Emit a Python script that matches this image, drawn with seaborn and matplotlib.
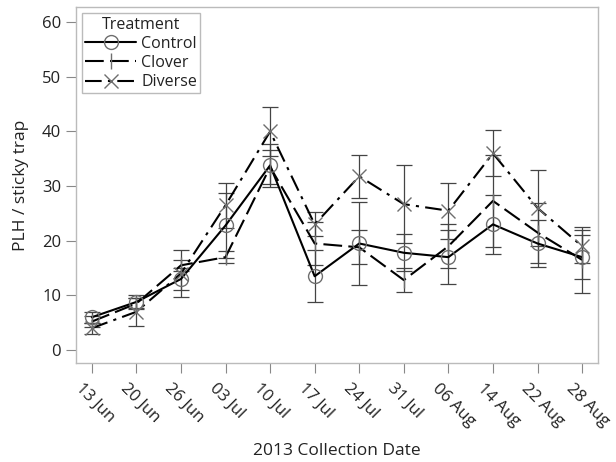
import numpy as np
import pandas as pd
import matplotlib
matplotlib.use('Agg')
import matplotlib.pyplot as plt
import matplotlib.transforms as mtransforms
import seaborn as sns

# Data
dates = ['13 Jun', '20 Jun', '26 Jun', '03 Jul', '10 Jul', '17 Jul',
         '24 Jul', '31 Jul', '06 Aug', '14 Aug', '22 Aug', '28 Aug']
control = [6.0, 8.8, 13.0, 22.8, 33.8, 13.5, 19.5, 17.8, 17.0, 23.0, 19.5, 17.0]
control_se = [1.0, 1.2, 2.0, 6.0, 3.9, 4.8, 7.6, 3.4, 5.0, 5.4, 4.3, 4.0]
clover = [5.2, 8.5, 15.5, 17.0, 33.5, 19.5, 18.8, 12.8, 19.0, 27.3, 21.5, 16.5]
clover_se = [1.0, 1.0, 1.0, 1.1, 3.2, 3.9, 3.1, 2.2, 4.0, 8.4, 5.5, 6.0]
diverse = [4.0, 7.0, 14.0, 26.5, 40.0, 23.0, 31.8, 26.7, 25.5, 36.0, 26.0, 19.0]
diverse_se = [1.0, 2.6, 4.3, 4.1, 4.4, 2.2, 3.9, 7.1, 5.1, 4.2, 7.0, 3.0]

series = {'Control': (control, control_se),
          'Clover': (clover, clover_se),
          'Diverse': (diverse, diverse_se)}
styles = {'Control': dict(dashes=(None, None), marker='o'),
          'Clover': dict(dashes=(9, 3), marker='|'),
          'Diverse': dict(dashes=(8, 3, 1.5, 3), marker='x')}

sns.set_style('white')
plt.rcParams['font.family'] = ['Open Sans', 'DejaVu Sans']
plt.rcParams['text.color'] = '#222222'
plt.rcParams['axes.labelcolor'] = '#222222'
plt.rcParams['xtick.labelcolor'] = '#222222'
plt.rcParams['ytick.labelcolor'] = '#222222'

fig = plt.figure(figsize=(6.16, 4.62), dpi=100)
ax = fig.add_axes([0.123, 0.214, 0.848, 0.771])

x = np.arange(len(dates))
gray = '#6e6e6e'
handles = []
for name, (vals, se) in series.items():
    df = pd.DataFrame({'x': x, 'y': vals})
    st = styles[name]
    ax.errorbar(x, vals, yerr=se, fmt='none', ecolor='#444444',
                elinewidth=0.9, capsize=6, capthick=0.9, zorder=2)
    sns.lineplot(data=df, x='x', y='y', ax=ax, color='black', lw=1.5,
                 dashes=False, zorder=3, legend=False)
    line = ax.lines[-1]
    if st['dashes'][0] is not None:
        line.set_dashes(st['dashes'])
    mk = st['marker']
    ax.plot(x, vals, linestyle='none', marker=mk, markersize=10 if mk != '|' else 12,
            markerfacecolor='none', markeredgecolor=gray, markeredgewidth=1.0, zorder=4)
    h, = ax.plot([], [], color='black', lw=1.5, marker=mk,
                 markersize=10 if mk != '|' else 12, markerfacecolor='none',
                 markeredgecolor=gray, markeredgewidth=1.0)
    if st['dashes'][0] is not None:
        h.set_dashes(st['dashes'])
    handles.append(h)

ax.set_xlim(-0.36, len(dates) - 1 + 0.36)
ax.set_ylim(-2.4, 62.8)
ax.set_yticks(range(0, 61, 10))
ax.set_xticks(x)
ax.set_xticklabels(dates, rotation=-45, ha='left', rotation_mode='anchor')
ax.set_xlabel('2013 Collection Date', fontsize=12.5, labelpad=10)
ax.set_ylabel('PLH / sticky trap', fontsize=12.5, labelpad=9)
ax.tick_params(axis='both', direction='out', length=7, width=0.8,
               color='#888888', labelsize=12, left=True, bottom=True)
ax.tick_params(axis='x', pad=6)
# nudge rotated date labels left so they hang under their ticks
shift = mtransforms.ScaledTranslation(-8 / 100, 1 / 100, fig.dpi_scale_trans)
for lbl in ax.get_xticklabels():
    lbl.set_transform(lbl.get_transform() + shift)
for sp in ax.spines.values():
    sp.set_color('#bbbbbb')
    sp.set_linewidth(1.0)

leg = ax.legend(handles, list(series.keys()), title='Treatment', loc='upper left',
                fontsize=11.5, title_fontsize=11.5, frameon=True, fancybox=False,
                handlelength=3.2, handletextpad=0.3, borderpad=0.2,
                labelspacing=0.2, borderaxespad=0.4)
leg.get_frame().set_edgecolor('#aaaaaa')
leg.get_frame().set_linewidth(1.0)

fig.savefig('out.png', dpi=100)
